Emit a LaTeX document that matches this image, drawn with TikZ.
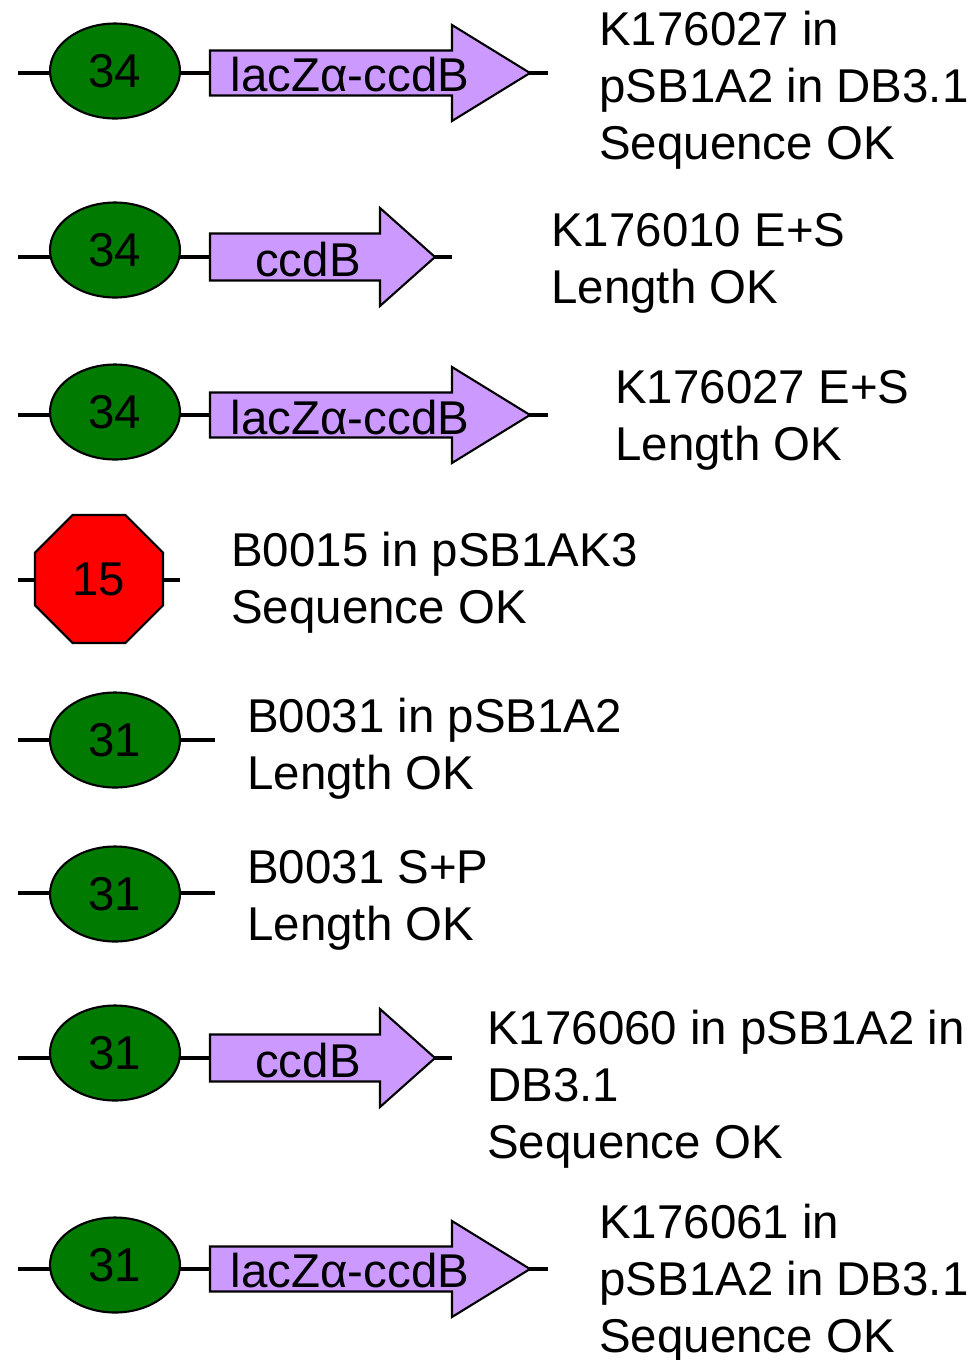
\documentclass[tikz,border=0pt]{standalone}
\usepackage{fontspec}
\setmainfont{Liberation Sans}
\usetikzlibrary{shapes}
\definecolor{rbsgreen}{RGB}{0,122,0}
\definecolor{cdspurple}{RGB}{204,153,255}
\newcommand{\partfont}{\fontsize{27}{32.5}\selectfont}
\tikzstyle{backbone}=[line width=2.8pt]
\tikzstyle{rbs}=[ellipse,draw=black,line width=1.2pt,fill=rbsgreen,minimum width=2.6cm,minimum height=1.9cm,inner sep=0pt,font=\partfont,text height=19.3pt,text depth=0pt]
\tikzstyle{term}=[regular polygon,regular polygon sides=8,draw=black,line width=1.2pt,fill=red,minimum size=2.77cm,inner sep=0pt,font=\partfont,text height=19.3pt,text depth=0pt]
\tikzstyle{cds}=[draw=black,line width=1.2pt,fill=cdspurple,line join=miter]
\tikzstyle{cdsname}=[inner sep=0pt,font=\partfont,text height=19.3pt,text depth=0pt]
\tikzstyle{partinfo}=[anchor=north west,inner sep=0pt,align=left,font=\partfont]

\begin{document}
\begin{tikzpicture}[x=0.02cm,y=-0.02cm]
	\useasboundingbox (0,0) rectangle (972,1360);
	% K176027 in pSB1A2
	\coordinate (a1) at (18,73);
	\coordinate (b1) at (548,73);
	\draw[backbone] (a1) -- (b1);
	\node[rbs] (rbs1) at (115,71) {34};
	\coordinate (c1) at (210,73);
	\draw[cds] (c1) ++(0,-22.5) -- ++(242,0) -- ++(0,-25.5) -- ++(78,48) -- ++(-78,48) -- ++(0,-25.5) -- ++(-242,0) -- cycle;
	\node[cdsname] (cds1) at (350,75) {lacZα-ccdB};
	\node[partinfo] (info1) at (599,11) {K176027 in\\pSB1A2 in DB3.1\\Sequence OK};

	% K176010 E+S
	\coordinate (a2) at (18,257);
	\coordinate (b2) at (452,257);
	\draw[backbone] (a2) -- (b2);
	\node[rbs] (rbs2) at (115,250) {34};
	\coordinate (c2) at (210,257);
	\draw[cds] (c2) ++(0,-23.5) -- ++(170,0) -- ++(0,-25.5) -- ++(55,49) -- ++(-55,49) -- ++(0,-25.5) -- ++(-170,0) -- cycle;
	\node[cdsname] (cds2) at (308,260) {ccdB};
	\node[partinfo] (info2) at (551,213) {K176010 E+S\\Length OK};

	% K176027 E+S
	\coordinate (a3) at (18,415);
	\coordinate (b3) at (548,415);
	\draw[backbone] (a3) -- (b3);
	\node[rbs] (rbs3) at (115,412) {34};
	\coordinate (c3) at (210,415);
	\draw[cds] (c3) ++(0,-22.5) -- ++(242,0) -- ++(0,-25.5) -- ++(78,48) -- ++(-78,48) -- ++(0,-25.5) -- ++(-242,0) -- cycle;
	\node[cdsname] (cds3) at (350,418) {lacZα-ccdB};
	\node[partinfo] (info3) at (615,370) {K176027 E+S\\Length OK};

	% B0015
	\coordinate (a4) at (18,580);
	\coordinate (b4) at (180,580);
	\draw[backbone] (a4) -- (b4);
	\node[term] (term4) at (99,579) {15};
	\node[partinfo] (info4) at (231,532) {B0015 in pSB1AK3\\Sequence OK};

	% B0031 in pSB1A2
	\coordinate (a5) at (18,740);
	\coordinate (b5) at (215,740);
	\draw[backbone] (a5) -- (b5);
	\node[rbs] (rbs5) at (115,740) {31};
	\node[partinfo] (info5) at (247,698) {B0031 in pSB1A2\\Length OK};

	% B0031 S+P
	\coordinate (a6) at (18,893);
	\coordinate (b6) at (215,893);
	\draw[backbone] (a6) -- (b6);
	\node[rbs] (rbs6) at (115,894) {31};
	\node[partinfo] (info6) at (247,850) {B0031 S+P\\Length OK};

	% K176060
	\coordinate (a7) at (18,1058);
	\coordinate (b7) at (452,1058);
	\draw[backbone] (a7) -- (b7);
	\node[rbs] (rbs7) at (115,1053) {31};
	\coordinate (c7) at (210,1058);
	\draw[cds] (c7) ++(0,-23.5) -- ++(170,0) -- ++(0,-25.5) -- ++(55,49) -- ++(-55,49) -- ++(0,-25.5) -- ++(-170,0) -- cycle;
	\node[cdsname] (cds7) at (308,1061) {ccdB};
	\node[partinfo] (info7) at (487,1010) {K176060 in pSB1A2 in\\DB3.1\\Sequence OK};

	% K176061
	\coordinate (a8) at (18,1269);
	\coordinate (b8) at (548,1269);
	\draw[backbone] (a8) -- (b8);
	\node[rbs] (rbs8) at (115,1265) {31};
	\coordinate (c8) at (210,1269);
	\draw[cds] (c8) ++(0,-22.5) -- ++(242,0) -- ++(0,-25.5) -- ++(78,48) -- ++(-78,48) -- ++(0,-25.5) -- ++(-242,0) -- cycle;
	\node[cdsname] (cds8) at (350,1271) {lacZα-ccdB};
	\node[partinfo] (info8) at (599,1204) {K176061 in\\pSB1A2 in DB3.1\\Sequence OK};
\end{tikzpicture}
\end{document}
